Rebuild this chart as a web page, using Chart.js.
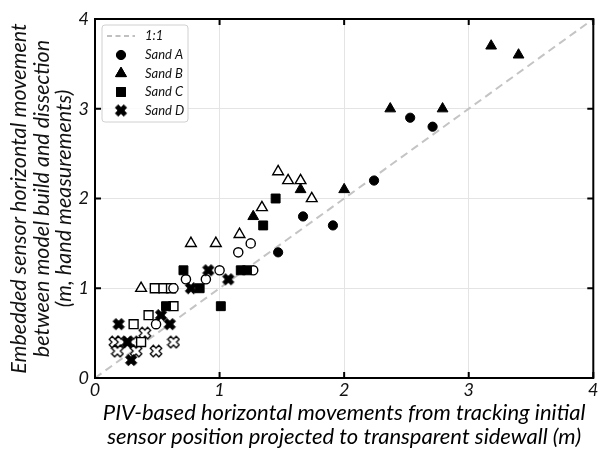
<!DOCTYPE html>
<html>
<head>
<meta charset="utf-8">
<script src="https://cdn.jsdelivr.net/npm/chart.js@4"></script>
<style>
  html, body { margin: 0; padding: 0; background: #fff; }
  #wrap { width: 601px; height: 450px; position: relative; }
</style>
</head>
<body>
<div id="wrap"><canvas id="chart-piv" width="601" height="450"></canvas></div>
<script>
(function () {
  'use strict';

  // 1:1 reference line
  var lineX = [0, 4];
  var lineY = [0, 4];

  // Sand A (circles), filled and open
  var sandAX = [2.24, 2.53, 2.71, 1.67, 1.91, 1.47];
  var sandAY = [2.2, 2.9, 2.8, 1.8, 1.7, 1.4];
  var sandAOpenX = [1.25, 1.15, 1.0, 1.27, 0.73, 0.89, 0.63, 0.49];
  var sandAOpenY = [1.5, 1.4, 1.2, 1.2, 1.1, 1.1, 1.0, 0.6];

  // Sand B (triangles)
  var sandBX = [3.18, 3.4, 2.37, 2.79, 2.0, 1.65, 1.27];
  var sandBY = [3.7, 3.6, 3.0, 3.0, 2.1, 2.1, 1.8];
  var sandBOpenX = [1.47, 1.55, 1.65, 1.74, 1.34, 1.16, 0.77, 0.97, 0.37];
  var sandBOpenY = [2.3, 2.2, 2.2, 2.0, 1.9, 1.6, 1.5, 1.5, 1.0];

  // Sand C (squares)
  var sandCX = [1.45, 1.35, 0.71, 0.84, 1.17, 1.22, 1.01, 0.57];
  var sandCY = [2.0, 1.7, 1.2, 1.0, 1.2, 1.2, 0.8, 0.8];
  var sandCOpenX = [0.48, 0.55, 0.61, 0.63, 0.43, 0.31, 0.37];
  var sandCOpenY = [1.0, 1.0, 1.0, 0.8, 0.7, 0.6, 0.4];

  // Sand D (crosses)
  var sandDX = [0.91, 1.07, 0.77, 0.53, 0.6, 0.19, 0.26, 0.29];
  var sandDY = [1.2, 1.1, 1.0, 0.7, 0.6, 0.6, 0.4, 0.2];
  var sandDOpenX = [0.16, 0.21, 0.31, 0.63, 0.4, 0.18, 0.33, 0.49];
  var sandDOpenY = [0.4, 0.4, 0.4, 0.4, 0.5, 0.3, 0.3, 0.3];

  var axisTicks = [0, 1, 2, 3, 4];
  var xTitle = ['PIV-based horizontal movements from tracking initial',
    'sensor position projected to transparent sidewall (m)'];
  var yTitle = ['Embedded sensor horizontal movement',
    'between model build and dissection',
    '(m, hand measurements)'];
  var legendLabels = ['1:1', 'Sand A', 'Sand B', 'Sand C', 'Sand D'];

  var FONT = 'Lato, "Open Sans", sans-serif';

  function pts(xs, ys) {
    return xs.map(function (x, i) {
      return { x: x, y: ys[i] };
    });
  }

  // thick "X" marker like matplotlib's filled x
  function xMarker(filled) {
    var c = document.createElement('canvas');
    c.width = 14;
    c.height = 14;
    var g = c.getContext('2d');
    var a = 6, t = 2.1;
    var p = [[t, a], [t, t], [a, t], [a, -t], [t, -t], [t, -a], [-t, -a], [-t, -t], [-a, -t], [-a, t], [-t, t], [-t, a]];
    var k = Math.SQRT1_2;
    g.beginPath();
    p.forEach(function (v, i) {
      var x = 7 + (v[0] - v[1]) * k;
      var y = 7 + (v[0] + v[1]) * k;
      if (i === 0) g.moveTo(x, y); else g.lineTo(x, y);
    });
    g.closePath();
    g.fillStyle = filled ? '#000' : '#fff';
    g.fill();
    g.lineWidth = filled ? 0.8 : 1.3;
    g.strokeStyle = '#000';
    g.stroke();
    return c;
  }

  var xFilled = xMarker(true);
  var xOpen = xMarker(false);

  function series(label, data, style, radius, filled) {
    return {
      type: 'scatter',
      label: label,
      data: data,
      pointStyle: style,
      pointRadius: radius,
      pointHoverRadius: radius,
      pointBorderWidth: filled ? 1 : 1.4,
      pointBackgroundColor: filled ? '#000' : '#fff',
      pointBorderColor: '#000',
    };
  }

  var frameTicks = {
    id: 'frameTicks',
    afterDraw: function (chart) {
      var ctx = chart.ctx;
      var a = chart.chartArea;
      var xs = chart.scales.x, ys = chart.scales.y;
      ctx.save();
      ctx.strokeStyle = '#000';
      ctx.lineWidth = 2;
      ctx.strokeRect(a.left, a.top, a.right - a.left, a.bottom - a.top);
      var len = 6;
      axisTicks.forEach(function (v) {
        var px = xs.getPixelForValue(v);
        var py = ys.getPixelForValue(v);
        ctx.beginPath();
        ctx.moveTo(px, a.bottom); ctx.lineTo(px, a.bottom - len);
        ctx.moveTo(px, a.top); ctx.lineTo(px, a.top + len);
        ctx.moveTo(a.left, py); ctx.lineTo(a.left + len, py);
        ctx.moveTo(a.right, py); ctx.lineTo(a.right - len, py);
        ctx.stroke();
      });

      // x axis title (two lines)
      ctx.fillStyle = '#000';
      ctx.font = 'italic 22px ' + FONT;
      ctx.textAlign = 'center';
      ctx.textBaseline = 'middle';
      var cx = (a.left + a.right) / 2;
      ctx.fillText(xTitle[0], cx, 413);
      ctx.fillText(xTitle[1], cx, 437);

      // legend box
      var bx = 102, by = 25, bw = 86, bh = 97;
      ctx.beginPath();
      ctx.roundRect(bx, by, bw, bh, 3);
      ctx.fillStyle = 'rgba(255,255,255,0.85)';
      ctx.fill();
      ctx.lineWidth = 1;
      ctx.strokeStyle = '#d0d0d0';
      ctx.stroke();
      var rowY = [36, 55, 73.5, 92, 110.5];
      var mx = 121;
      ctx.font = 'italic 13px ' + FONT;
      ctx.textAlign = 'left';
      legendLabels.forEach(function (lab, i) {
        var y = rowY[i];
        if (i === 0) {
          ctx.save();
          ctx.strokeStyle = '#c0c0c0';
          ctx.lineWidth = 2;
          ctx.setLineDash([5, 3.5]);
          ctx.beginPath();
          ctx.moveTo(107, y); ctx.lineTo(135, y);
          ctx.stroke();
          ctx.restore();
        } else {
          var ds = chart.data.datasets[i];
          Chart.helpers.drawPoint(ctx, {
            pointStyle: ds.pointStyle,
            radius: ds.pointRadius,
            borderWidth: 1,
          }, mx, y);
          ctx.fillStyle = '#000';
          ctx.strokeStyle = '#000';
          ctx.lineWidth = 1;
          if (typeof ds.pointStyle === 'string') {
            ctx.fill();
            ctx.stroke();
          }
        }
        ctx.fillStyle = '#111';
        ctx.fillText(lab, 145, y);
      });
      ctx.restore();
    },
  };

  var ctx = document.getElementById('chart-piv');
  new Chart(ctx, {
    data: {
      datasets: [
        {
          type: 'line',
          label: '1:1',
          data: pts(lineX, lineY),
          borderColor: '#c4c4c4',
          borderWidth: 2,
          borderDash: [8, 5],
          pointRadius: 0,
          order: 10,
        },
        series('Sand A', pts(sandAX, sandAY), 'circle', 4.6, true),
        series('Sand B', pts(sandBX, sandBY), 'triangle', 6.2, true),
        series('Sand C', pts(sandCX, sandCY), 'rect', 6.3, true),
        series('Sand D', pts(sandDX, sandDY), xFilled, 6, true),
        series('Sand A open', pts(sandAOpenX, sandAOpenY), 'circle', 4.6, false),
        series('Sand B open', pts(sandBOpenX, sandBOpenY), 'triangle', 6.2, false),
        series('Sand C open', pts(sandCOpenX, sandCOpenY), 'rect', 6.3, false),
        series('Sand D open', pts(sandDOpenX, sandDOpenY), xOpen, 6, false),
      ],
    },
    options: {
      responsive: false,
      animation: false,
      layout: { padding: { top: 19, right: 6, left: 0, bottom: 0 } },
      plugins: { legend: { display: false }, tooltip: { enabled: false } },
      scales: {
        x: {
          type: 'linear',
          min: 0,
          max: 4,
          afterFit: function (s) { s.height = 72; },
          afterBuildTicks: function (s) {
            s.ticks = axisTicks.map(function (v) { return { value: v }; });
          },
          grid: { color: '#e4e4e4', lineWidth: 1, drawTicks: false },
          border: { display: false },
          ticks: {
            padding: 1,
            color: '#111',
            font: { family: FONT, size: 18, style: 'italic' },
          },
        },
        y: {
          type: 'linear',
          min: 0,
          max: 4,
          afterFit: function (s) { s.width = 95; },
          afterBuildTicks: function (s) {
            s.ticks = axisTicks.map(function (v) { return { value: v }; });
          },
          grid: { color: '#e4e4e4', lineWidth: 1, drawTicks: false },
          border: { display: false },
          ticks: {
            padding: 6,
            color: '#111',
            font: { family: FONT, size: 18, style: 'italic' },
          },
          title: {
            display: true,
            text: yTitle,
            color: '#111',
            padding: { top: 8, bottom: 0 },
            font: { family: FONT, size: 21.5, style: 'italic', lineHeight: 1.05 },
          },
        },
      },
    },
    plugins: [frameTicks],
  });
})();
</script>
</body>
</html>
